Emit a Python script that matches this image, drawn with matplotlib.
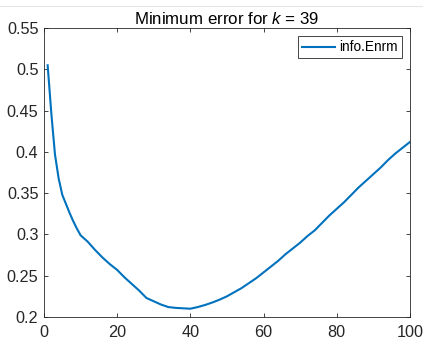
import matplotlib
matplotlib.use("Agg")
import matplotlib.pyplot as plt
from matplotlib.ticker import FuncFormatter
from matplotlib.lines import Line2D

# number of neighbours k and the error
k_values = [1, 2, 3, 4, 5, 6, 7, 8, 9, 10, 12, 14, 16, 18, 20, 22, 24, 26, 28, 30,
            32, 34, 36, 38, 40, 42, 44, 46, 48, 50, 52, 54, 56, 58, 60, 62, 64, 66,
            68, 70, 72, 74, 76, 78, 80, 82, 84, 86, 88, 90, 92, 94, 96, 98, 100]
enrm = [0.505, 0.447, 0.397, 0.368, 0.348, 0.337, 0.326, 0.316, 0.307, 0.299,
        0.291, 0.281, 0.272, 0.264, 0.257, 0.248, 0.240, 0.232, 0.223, 0.219,
        0.215, 0.212, 0.211, 0.2105, 0.210, 0.212, 0.2145, 0.2175, 0.221, 0.225,
        0.230, 0.235, 0.241, 0.247, 0.254, 0.261, 0.268, 0.276, 0.283, 0.290,
        0.298, 0.305, 0.314, 0.323, 0.331, 0.339, 0.348, 0.357, 0.365, 0.373,
        0.381, 0.390, 0.398, 0.405, 0.412]
best_k = 39

x_ticks = [0, 20, 40, 60, 80, 100]
y_ticks = [0.2, 0.25, 0.3, 0.35, 0.4, 0.45, 0.5, 0.55]

plt.rcParams['font.family'] = ['Liberation Sans', 'DejaVu Sans']
plt.rcParams['mathtext.fontset'] = 'custom'
plt.rcParams['mathtext.it'] = 'Liberation Sans:italic'
plt.rcParams['mathtext.rm'] = 'Liberation Sans'

fig = plt.figure(figsize=(4.23, 3.39), dpi=100)
ax = fig.add_axes([0.104, 0.065, 0.865, 0.852])

ax.plot(k_values, enrm, color='#0072BD', linewidth=1.5, label='info.Enrm')

ax.set_xlim(0, 100)
ax.set_ylim(0.2, 0.55)
ax.set_xticks(x_ticks)
ax.set_yticks(y_ticks)
ax.yaxis.set_major_formatter(FuncFormatter(lambda v, p: f"{v:g}"))
ax.tick_params(direction='in', top=True, right=True, length=3,
               labelsize=11.7, colors='#262626', width=0.6)
ax.tick_params(axis='x', pad=6)
ax.tick_params(axis='y', pad=4)
for s in ax.spines.values():
    s.set_color('#262626')
    s.set_linewidth(0.6)

ax.set_title(f"Minimum error for $k$ = {best_k}", fontsize=12.2, color='black', pad=3)

leg = ax.legend(loc='upper right', fontsize=9.8, handlelength=2.4, handletextpad=0.3,
                borderpad=0.3, borderaxespad=0.6, fancybox=False, framealpha=1)
leg.get_frame().set_edgecolor('#262626')
leg.get_frame().set_linewidth(0.6)

fig.add_artist(Line2D([0, 1], [0.982, 0.982], transform=fig.transFigure,
                      color='#e6e6e6', linewidth=0.8))

fig.savefig("out.png", dpi=100)
